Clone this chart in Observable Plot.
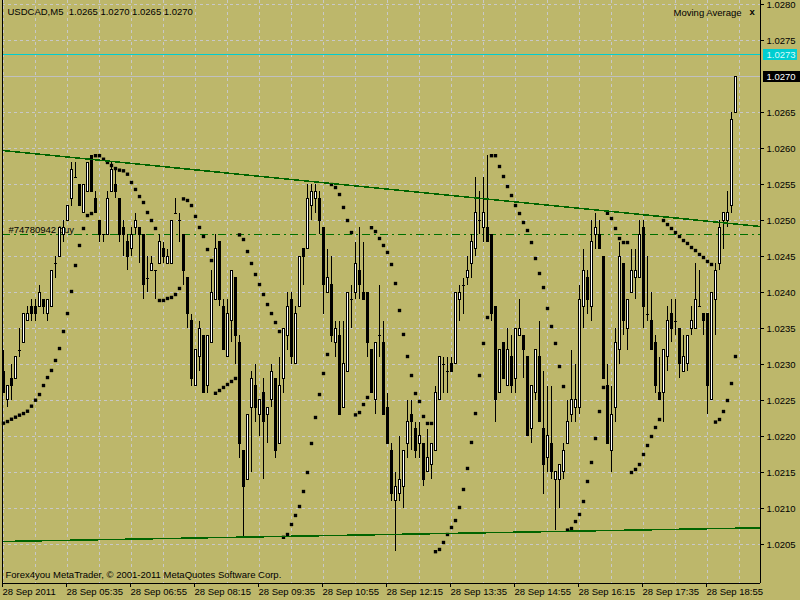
<!DOCTYPE html>
<html><head><meta charset="utf-8">
<script src="https://cdn.jsdelivr.net/npm/d3@7"></script>
<script src="https://cdn.jsdelivr.net/npm/@observablehq/plot@0.6"></script>
<style>html,body{margin:0;padding:0;background:#BDB76B;overflow:hidden}</style>
</head><body><div id="chart"></div>
<script>
const symbolName = "USDCAD,M5";
const indicatorName = "Moving Average";
const copyright = "Forex4you MetaTrader, © 2001-2011 MetaQuotes Software Corp.";
const orderLabel = "#74780942 buy";

const openP = [1.0229,1.0225,1.0228,1.0228,1.0232,1.0233,1.0236,1.0238,1.0238,1.0238,1.0239,1.0237,1.0238,1.0244,1.0245,1.0248,1.0250,1.0253,1.0256,1.0255,
1.0251,1.0254,1.0259,1.0253,1.0250,1.0248,1.0248,1.0254,1.0255,1.0253,1.0249,1.0247,1.0246,1.0249,1.0249,1.0248,1.0242,1.0243,1.0243,1.0244,
1.0246,1.0244,1.0244,1.0251,1.0250,1.0248,1.0242,1.0236,1.0227,1.0231,1.0234,1.0227,1.0233,1.0239,1.0247,1.0238,1.0231,1.0236,1.0242,1.0233,
1.0218,1.0214,1.0224,1.0227,1.0223,1.0226,1.0223,1.0225,1.0228,1.0219,1.0228,1.0234,1.0239,1.0230,1.0238,1.0246,1.0246,1.0252,1.0253,1.0253,
1.0249,1.0240,1.0241,1.0233,1.0234,1.0224,1.0229,1.0239,1.0240,1.0243,1.0240,1.0240,1.0232,1.0225,1.0234,1.0233,1.0224,1.0218,1.0211,1.0212,
1.0213,1.0219,1.0223,1.0221,1.0219,1.0219,1.0215,1.0216,1.0218,1.0225,1.0230,1.0229,1.0230,1.0230,1.0239,1.0241,1.0242,1.0244,1.0246,1.0250,
1.0249,1.0249,1.0248,1.0238,1.0226,1.0233,1.0227,1.0231,1.0228,1.0234,1.0234,1.0231,1.0221,1.0226,1.0231,1.0221,1.0217,1.0219,1.0214,1.0214,
1.0215,1.0219,1.0223,1.0224,1.0224,1.0238,1.0242,1.0238,1.0248,1.0248,1.0245,1.0227,1.0218,1.0224,1.0232,1.0244,1.0235,1.0240,1.0242,1.0242,
1.0249,1.0237,1.0236,1.0233,1.0226,1.0226,1.0231,1.0237,1.0236,1.0235,1.0229,1.0230,1.0235,1.0235,1.0238,1.0237,1.0237,1.0225,1.0239,1.0244,
1.0250,1.0250,1.0252,1.0265];
const highP = [1.0232,1.0227,1.0230,1.0231,1.0235,1.0237,1.0238,1.0239,1.0239,1.0241,1.0239,1.0239,1.0243,1.0245,1.0249,1.0250,1.0252,1.0258,1.0258,1.0255,
1.0255,1.0258,1.0259,1.0254,1.0250,1.0248,1.0254,1.0258,1.0257,1.0253,1.0250,1.0248,1.0249,1.0251,1.0249,1.0248,1.0245,1.0245,1.0243,1.0248,
1.0247,1.0246,1.0250,1.0253,1.0251,1.0248,1.0242,1.0237,1.0232,1.0236,1.0234,1.0234,1.0243,1.0248,1.0247,1.0239,1.0239,1.0243,1.0242,1.0234,
1.0218,1.0223,1.0229,1.0230,1.0225,1.0228,1.0224,1.0230,1.0228,1.0231,1.0235,1.0240,1.0240,1.0238,1.0245,1.0246,1.0255,1.0255,1.0255,1.0254,
1.0249,1.0246,1.0245,1.0236,1.0236,1.0236,1.0240,1.0241,1.0247,1.0249,1.0247,1.0240,1.0232,1.0233,1.0241,1.0236,1.0226,1.0219,1.0215,1.0220,
1.0218,1.0225,1.0225,1.0222,1.0222,1.0219,1.0221,1.0219,1.0227,1.0231,1.0231,1.0231,1.0231,1.0240,1.0241,1.0242,1.0245,1.0248,1.0256,1.0254,
1.0256,1.0259,1.0248,1.0238,1.0232,1.0233,1.0235,1.0234,1.0235,1.0239,1.0234,1.0231,1.0227,1.0232,1.0236,1.0229,1.0227,1.0227,1.0215,1.0216,
1.0219,1.0225,1.0232,1.0230,1.0241,1.0246,1.0243,1.0250,1.0251,1.0250,1.0245,1.0230,1.0227,1.0235,1.0247,1.0244,1.0239,1.0246,1.0246,1.0250,
1.0250,1.0245,1.0240,1.0234,1.0231,1.0232,1.0238,1.0239,1.0239,1.0235,1.0234,1.0234,1.0238,1.0244,1.0243,1.0237,1.0237,1.0240,1.0244,1.0250,
1.0251,1.0254,1.0265,1.0270];
const lowP = [1.0226,1.0224,1.0225,1.0228,1.0231,1.0233,1.0236,1.0236,1.0236,1.0238,1.0237,1.0236,1.0238,1.0242,1.0245,1.0247,1.0250,1.0252,1.0256,1.0252,
1.0251,1.0254,1.0254,1.0251,1.0247,1.0247,1.0248,1.0254,1.0253,1.0247,1.0245,1.0243,1.0245,1.0248,1.0244,1.0239,1.0240,1.0243,1.0239,1.0244,
1.0244,1.0244,1.0244,1.0251,1.0247,1.0241,1.0235,1.0227,1.0227,1.0229,1.0226,1.0226,1.0233,1.0239,1.0238,1.0232,1.0231,1.0233,1.0230,1.0217,
1.0206,1.0214,1.0215,1.0222,1.0220,1.0214,1.0219,1.0224,1.0217,1.0219,1.0226,1.0232,1.0230,1.0230,1.0238,1.0241,1.0246,1.0250,1.0251,1.0248,
1.0237,1.0240,1.0233,1.0231,1.0223,1.0224,1.0229,1.0235,1.0239,1.0239,1.0239,1.0231,1.0226,1.0223,1.0231,1.0223,1.0219,1.0211,1.0204,1.0211,
1.0210,1.0217,1.0218,1.0217,1.0217,1.0213,1.0215,1.0214,1.0218,1.0225,1.0226,1.0226,1.0229,1.0230,1.0236,1.0237,1.0241,1.0242,1.0245,1.0248,
1.0247,1.0247,1.0236,1.0222,1.0226,1.0228,1.0227,1.0226,1.0226,1.0234,1.0228,1.0220,1.0219,1.0225,1.0222,1.0212,1.0215,1.0214,1.0207,1.0210,
1.0214,1.0219,1.0222,1.0222,1.0223,1.0235,1.0237,1.0236,1.0246,1.0246,1.0228,1.0219,1.0215,1.0222,1.0230,1.0234,1.0232,1.0240,1.0239,1.0242,
1.0235,1.0236,1.0232,1.0226,1.0225,1.0222,1.0229,1.0233,1.0234,1.0228,1.0229,1.0229,1.0234,1.0235,1.0238,1.0234,1.0223,1.0225,1.0234,1.0243,
1.0246,1.0249,1.0251,1.0265];
const closeP = [1.0226,1.0227,1.0227,1.0231,1.0232,1.0237,1.0237,1.0237,1.0237,1.0240,1.0238,1.0239,1.0243,1.0244,1.0249,1.0249,1.0252,1.0257,1.0256,1.0252,
1.0255,1.0258,1.0254,1.0251,1.0248,1.0248,1.0253,1.0257,1.0254,1.0248,1.0248,1.0245,1.0248,1.0250,1.0248,1.0241,1.0242,1.0244,1.0243,1.0247,
1.0245,1.0245,1.0250,1.0251,1.0250,1.0243,1.0237,1.0228,1.0232,1.0235,1.0226,1.0234,1.0240,1.0246,1.0239,1.0232,1.0237,1.0243,1.0234,1.0219,
1.0213,1.0223,1.0228,1.0224,1.0225,1.0222,1.0224,1.0229,1.0218,1.0227,1.0235,1.0238,1.0231,1.0237,1.0245,1.0245,1.0253,1.0254,1.0254,1.0250,
1.0241,1.0242,1.0234,1.0235,1.0223,1.0230,1.0240,1.0239,1.0244,1.0241,1.0239,1.0233,1.0226,1.0233,1.0234,1.0223,1.0219,1.0212,1.0213,1.0214,
1.0218,1.0222,1.0222,1.0218,1.0220,1.0214,1.0217,1.0219,1.0226,1.0231,1.0230,1.0229,1.0229,1.0240,1.0240,1.0241,1.0243,1.0247,1.0251,1.0250,
1.0251,1.0247,1.0237,1.0225,1.0232,1.0228,1.0232,1.0227,1.0235,1.0235,1.0232,1.0220,1.0227,1.0232,1.0222,1.0216,1.0220,1.0215,1.0215,1.0216,
1.0218,1.0222,1.0225,1.0225,1.0239,1.0243,1.0239,1.0247,1.0249,1.0246,1.0228,1.0219,1.0223,1.0233,1.0245,1.0236,1.0239,1.0243,1.0243,1.0248,
1.0238,1.0237,1.0232,1.0227,1.0225,1.0232,1.0236,1.0235,1.0236,1.0230,1.0231,1.0234,1.0236,1.0239,1.0238,1.0236,1.0227,1.0240,1.0243,1.0249,
1.0251,1.0251,1.0264,1.0270];
const sarP = [1.022185,1.022208,1.02224,1.022268,1.022296,1.022319,1.022351,1.022421,1.022504,1.022583,1.022708,1.022819,1.022917,1.023056,1.023222,1.023458,1.023708,1.024014,1.024375,1.024653,
1.024889,1.025069,1.025097,1.0259,1.0259,1.025851,1.025806,1.025764,1.025722,1.025699,1.02569,1.025643,1.025528,1.025431,1.025333,1.02525,1.025111,1.025,1.024889,1.023889,
1.023889,1.023917,1.023931,1.023972,1.024056,1.0253,1.025278,1.025208,1.025056,1.024903,1.024778,1.024597,1.024444,1.0226,1.022639,1.022681,1.022722,1.022764,1.022806,1.0248,
1.024736,1.024569,1.024403,1.02425,1.024111,1.023972,1.023833,1.023708,1.023583,1.023458,1.0206,1.020639,1.020778,1.020903,1.021028,1.021236,1.0215,1.021903,1.022264,1.022583,
1.022875,1.023139,1.0255,1.025458,1.025361,1.025181,1.025,1.024833,1.0223,1.022333,1.022444,1.022542,1.0249,1.024847,1.02475,1.024653,1.024556,1.024389,1.024125,1.02375,
1.023417,1.023111,1.022847,1.022597,1.022486,1.022278,1.022181,1.022181,1.0204,1.020431,1.020528,1.020639,1.020736,1.020833,1.021014,1.021264,1.021556,1.021917,1.022319,1.022847,
1.023292,1.023653,1.0259,1.0259,1.02575,1.025611,1.025472,1.025347,1.025208,1.025097,1.024972,1.024861,1.024694,1.024472,1.024264,1.024069,1.023778,1.023528,1.023292,1.022972,
1.022694,1.0207,1.020722,1.020819,1.020917,1.021097,1.021375,1.021639,1.021972,1.022347,1.022681,1.0251,1.025028,1.024889,1.02475,1.024694,1.024694,1.0215,1.021542,1.021611,
1.02175,1.021875,1.022,1.022125,1.022236,1.025,1.024944,1.024889,1.024833,1.024778,1.024722,1.024681,1.024625,1.024583,1.024528,1.024486,1.024431,1.024389,1.0222,1.022236,
1.022347,1.0225,1.022736,1.023111];

const timeTickIdx = [0,16,32,48,64,80,96,112,128,144,160,176];
const timeTickLabels = ["28 Sep 2011","28 Sep 05:35","28 Sep 06:55","28 Sep 08:15","28 Sep 09:35","28 Sep 10:55","28 Sep 12:15","28 Sep 13:35","28 Sep 14:55","28 Sep 16:15","28 Sep 17:35","28 Sep 18:55"];
const gridIdx = [0,8,16,24,32,40,48,56,64,72,80,88,96,104,112,120,128,136,144,152,160,168,176,184];
const priceTicks = [1.0205,1.0210,1.0215,1.0220,1.0225,1.0230,1.0235,1.0240,1.0245,1.0250,1.0255,1.0260,1.0265,1.0270,1.0275,1.0280];
const bidPrice = 1.0270;
const levelPrice = 1.0273;
const orderPrice = 1.0248;
const upperTrend = [{i:-0.25, p:1.025972},{i:189.25, p:1.024917}];
const lowerTrend = [{i:-0.25, p:1.020542},{i:189.25, p:1.020732}];

const bars = openP.map((o, i) => ({i, o, h: highP[i], l: lowP[i], c: closeP[i]}));
const sar = sarP.map((s, i) => ({i, s}));
const fmt = d3.format(".4f");
const last = bars[bars.length - 1];
const title = `${symbolName}\u00a0\u00a0${fmt(last.o)} ${fmt(last.h)} ${fmt(last.l)} ${fmt(last.c)}`;

const BG = "#BDB76B", GRID = "#c8c8c8";
const chart = Plot.plot({
  width: 800, height: 600,
  marginTop: 0, marginBottom: 17, marginLeft: 2, marginRight: 40,
  x: {type: "linear", domain: [-0.25, 189.25], axis: null},
  y: {type: "linear", domain: [1.0199583, 1.0280556], axis: null},
  style: {background: BG, fontFamily: "Liberation Sans", fontSize: "9.5px", color: "black"},
  marks: [
    Plot.gridX(gridIdx, {stroke: GRID, strokeOpacity: 1, strokeDasharray: "3,3", shapeRendering: "crispEdges"}),
    Plot.gridY(priceTicks, {stroke: GRID, strokeOpacity: 1, strokeDasharray: "3,3", shapeRendering: "crispEdges"}),
    Plot.ruleY([levelPrice], {stroke: "#00CED1", shapeRendering: "crispEdges"}),
    Plot.ruleY([bidPrice], {stroke: "#C0C0C0", shapeRendering: "crispEdges"}),
    Plot.ruleY([orderPrice], {stroke: "#007000", strokeDasharray: "8,4,2,4", shapeRendering: "crispEdges"}),
    Plot.text([orderPrice], {y: d => d, text: () => orderLabel, frameAnchor: "left", textAnchor: "start", dx: 6, dy: -5, fill: "black"}),
    Plot.ruleX(bars, {x: "i", y1: "l", y2: "h", stroke: "black", shapeRendering: "crispEdges"}),
    Plot.rect(bars.filter(d => d.c !== d.o), {x1: d => d.i - 0.25, x2: d => d.i + 0.25, y1: "o", y2: "c", fill: d => d.c > d.o ? "white" : "black", stroke: "black", shapeRendering: "crispEdges"}),
    Plot.ruleY(bars.filter(d => d.c === d.o), {y: "c", x1: d => d.i - 0.375, x2: d => d.i + 0.375, stroke: "black", shapeRendering: "crispEdges"}),
    Plot.dot(sar, {x: "i", y: "s", symbol: "square", r: 1.9, fill: "black", stroke: null}),
    Plot.line(upperTrend, {x: "i", y: "p", stroke: "#006400", shapeRendering: "crispEdges"}),
    Plot.line(lowerTrend, {x: "i", y: "p", stroke: "#006400", shapeRendering: "crispEdges"}),
    Plot.ruleX([-0.25, 189.25], {stroke: "black", shapeRendering: "crispEdges"}),
    Plot.ruleY([1.0199583], {stroke: "black", shapeRendering: "crispEdges"}),
    Plot.axisY(priceTicks.filter(p => p !== bidPrice), {anchor: "right", label: null, tickSize: 3, tickPadding: 3, tickFormat: fmt, shapeRendering: "crispEdges"}),
    Plot.axisX(timeTickIdx, {anchor: "bottom", label: null, tickSize: 4, tickPadding: 1, textAnchor: "start", dx: -1, tickFormat: d => timeTickLabels[timeTickIdx.indexOf(d)], shapeRendering: "crispEdges"}),
    // price label boxes at the right edge
    Plot.ruleY([levelPrice], {stroke: "#00CED1", strokeWidth: 11, insetLeft: 724, dx: 37, shapeRendering: "crispEdges"}),
    Plot.ruleY([bidPrice], {stroke: "black", strokeWidth: 11, insetLeft: 721, dx: 40, shapeRendering: "crispEdges"}),
    Plot.text([levelPrice], {y: d => d, text: d => fmt(d), frameAnchor: "right", textAnchor: "start", dx: 6, fill: "#d9fafa"}),
    Plot.text([bidPrice], {y: d => d, text: d => fmt(d), frameAnchor: "right", textAnchor: "start", dx: 6, fill: "white"}),
    Plot.text([title], {frameAnchor: "top-left", textAnchor: "start", lineAnchor: "middle", dx: 5, dy: 11, fill: "black"}),
    Plot.text([indicatorName], {frameAnchor: "top-right", textAnchor: "end", lineAnchor: "middle", dx: -19, dy: 12, fill: "black"}),
    Plot.text(["x"], {frameAnchor: "top-right", textAnchor: "start", lineAnchor: "middle", dx: -11, dy: 11, fill: "black", fontWeight: "bold"}),
    Plot.text([copyright], {frameAnchor: "bottom-left", textAnchor: "start", lineAnchor: "middle", dx: 3, dy: -8.5, fill: "black"})
  ]
});
document.getElementById("chart").appendChild(chart);
</script></body></html>
